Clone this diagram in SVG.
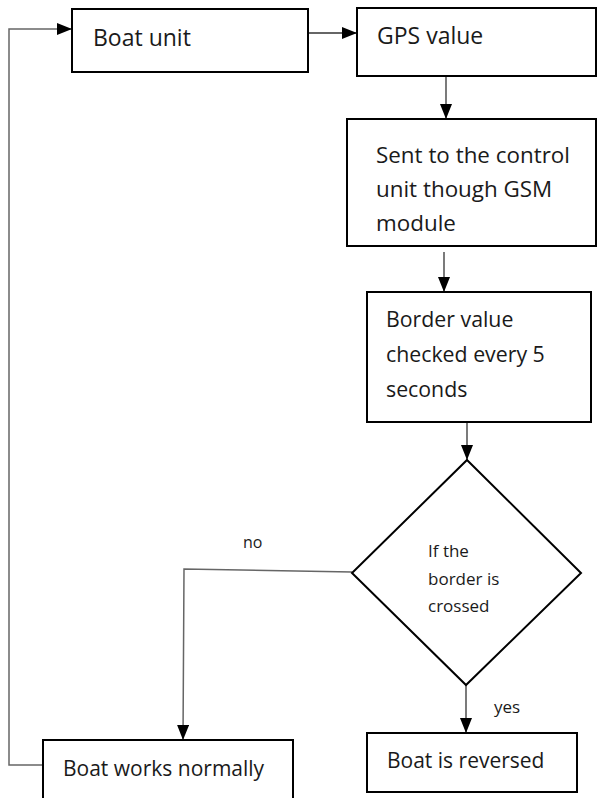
<svg xmlns="http://www.w3.org/2000/svg" width="598" height="798" viewBox="0 0 598 798">
<style>
.box{fill:#fff;stroke:#000;stroke-width:2}
.t{font-family:"Open Sans","Noto Sans",sans-serif;fill:#1a1a1a}
.c{fill:none;stroke:#333;stroke-width:1.3}
.g{fill:none;stroke:#666;stroke-width:1.5}
</style>
<defs>
<marker id="ah" markerUnits="userSpaceOnUse" markerWidth="16" markerHeight="14" refX="15" refY="6" orient="auto">
<path d="M0,0 L15,6 L0,12 Z" fill="#000"/>
</marker>
</defs>
<rect width="598" height="798" fill="#fff"/>
<g id="connectors">
<line class="c" x1="308" y1="33" x2="357" y2="33" marker-end="url(#ah)"/>
<line class="c" x1="446" y1="76" x2="446" y2="119" marker-end="url(#ah)"/>
<line class="c" x1="444" y1="252" x2="444" y2="292" marker-end="url(#ah)"/>
<line class="c" x1="467" y1="422" x2="467" y2="460" marker-end="url(#ah)"/>
<line class="c" x1="466" y1="685" x2="466" y2="733" marker-end="url(#ah)"/>
<polyline class="g" points="352,572 184,569 183,740" marker-end="url(#ah)"/>
<polyline class="g" points="43,765 9,765 9,29 72,29" marker-end="url(#ah)"/>
<text class="t" x="243" y="548" font-size="16">no</text>
<text class="t" x="494" y="713" font-size="17">yes</text>
</g>
<g id="boat-unit">
<rect class="box" x="72" y="9" width="236" height="63"/>
<text class="t" x="93" y="46" font-size="23">Boat unit</text>
</g>
<g id="gps-value">
<rect class="box" x="357" y="8" width="239" height="68"/>
<text class="t" x="377" y="44" font-size="23">GPS value</text>
</g>
<g id="sent">
<rect class="box" x="347" y="119" width="249" height="127"/>
<text class="t" x="376" y="163" font-size="22.4">Sent to the control</text>
<text class="t" x="376" y="197" font-size="22.4">unit though GSM</text>
<text class="t" x="376" y="231" font-size="22.4">module</text>
</g>
<g id="border-value">
<rect class="box" x="367" y="292" width="224" height="130"/>
<text class="t" x="386" y="327" font-size="21.3">Border value</text>
<text class="t" x="386" y="362" font-size="21.3">checked every 5</text>
<text class="t" x="386" y="397" font-size="21.3">seconds</text>
</g>
<g id="decision">
<polygon class="box" points="467,460 581,573 466,685 352,573"/>
<text class="t" x="428" y="557" font-size="17">If the</text>
<text class="t" x="428" y="585" font-size="17">border is</text>
<text class="t" x="428" y="612" font-size="17">crossed</text>
</g>
<g id="boat-normal">
<rect class="box" x="43" y="740" width="250" height="70"/>
<text class="t" x="63" y="776" font-size="21">Boat works normally</text>
</g>
<g id="boat-reversed">
<rect class="box" x="367" y="733" width="210" height="59"/>
<text class="t" x="387" y="768" font-size="21">Boat is reversed</text>
</g>
</svg>
